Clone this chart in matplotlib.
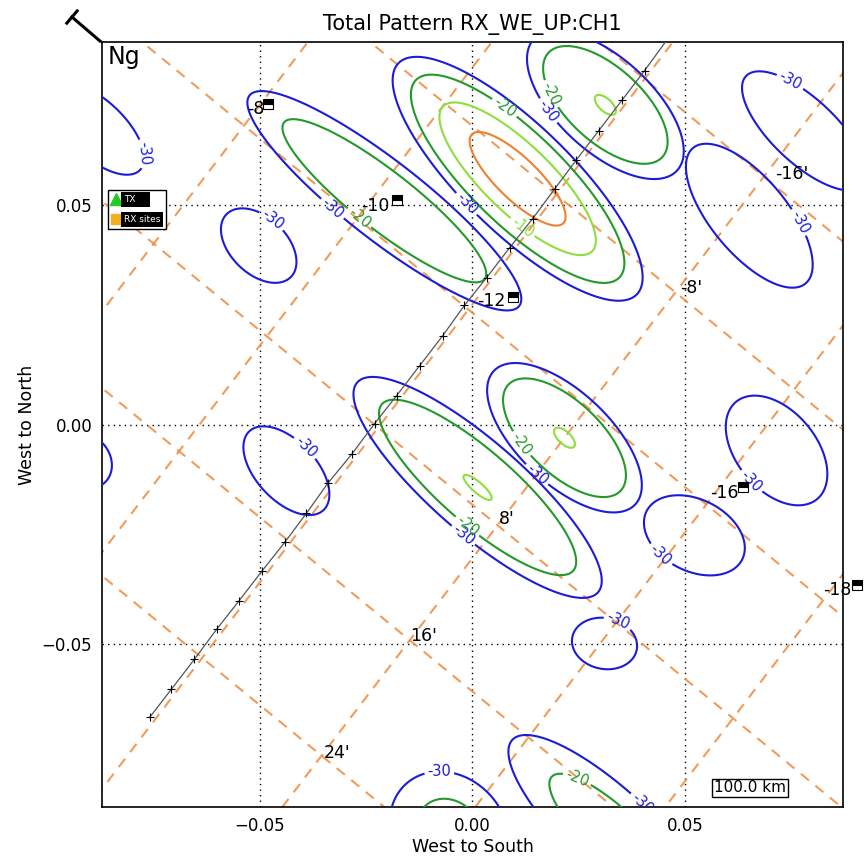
# Total pattern plot, RX_WE_UP:CH1

import numpy as np
import matplotlib
matplotlib.use('Agg')
import matplotlib.pyplot as plt
from matplotlib.lines import Line2D

# pattern lobes: centre, semi-axes of the -30 dB contour, tilt (deg), peak (dB)
lobe_x = [0.0106, 0.0312, -0.0207, 0.0216, 0.0012, -0.0437, -0.0911, 0.0779,
          0.0650, 0.0714, 0.0521, 0.0310, 0.0333, -0.0054, -0.0883, -0.0502]
lobe_y = [0.0559, 0.0727, 0.0509, -0.0030, -0.0143, -0.0105, -0.0082, 0.0668,
          0.0475, -0.0059, -0.0252, -0.0498, -0.0934, -0.0927, 0.0673, 0.0407]
lobe_a = [0.0384, 0.0225, 0.0397, 0.0225, 0.0370, 0.0125, 0.0069, 0.0185,
          0.0203, 0.0146, 0.0125, 0.0077, 0.0323, 0.0150, 0.0139, 0.0104]
lobe_b = [0.0125, 0.0108, 0.0090, 0.0106, 0.0106, 0.0069, 0.0058, 0.0074,
          0.0088, 0.0092, 0.0082, 0.0058, 0.0097, 0.0127, 0.0065, 0.0065]
lobe_ang = [-43, -41, -37, -42, -40, -45, -42, -42, -49, -48, -25, -10, -42, -42, -42, -42]
lobe_peak = [-3.5, -9.95, -13, -9.95, -9.97, -28, -28, -27, -27, -27, -27, -28, -17, -18, -27, -28]

levels = [-30, -20, -10, -5]
level_colors = ['#1c1cd8', '#23992b', '#8ede3e', '#ee8030']

# where the contour labels sit
lab30_x = [-0.0770, -0.0481, -0.0347, -0.0014, 0.0178, -0.0399, -0.0026, 0.0174,
           0.0657, 0.0423, 0.0340, -0.0078, 0.0744, 0.0744, 0.0399]
lab30_y = [0.0616, 0.0452, 0.0471, 0.0502, 0.0714, -0.0059, -0.0257, -0.0089,
           -0.0127, -0.0316, -0.0452, -0.0793, 0.0777, 0.0448, -0.0861]
lab20_x = [0.0082, 0.0176, -0.0265, 0.0134, -0.0007, 0.0244]
lab20_y = [0.0730, 0.0748, 0.0471, -0.0030, -0.0225, -0.0809]
lab10_x = [0.0115]
lab10_y = [0.0446]

# receiver track with its sample marks
track_x = [-0.0758, -0.0707, -0.0653, -0.0601, -0.0549, -0.0495, -0.0441, -0.0390,
           -0.0340, -0.0284, -0.0230, -0.0178, -0.0124, -0.0070, -0.0019, 0.0033,
           0.0087, 0.0141, 0.0193, 0.0244, 0.0296, 0.0352, 0.0404]
track_y = [-0.0666, -0.0602, -0.0534, -0.0466, -0.0402, -0.0334, -0.0268, -0.0202,
           -0.0134, -0.0068, 0.0002, 0.0066, 0.0134, 0.0202, 0.0271, 0.0334,
           0.0402, 0.0468, 0.0536, 0.0602, 0.0668, 0.0739, 0.0805]
track_end_x = 0.0462
track_end_y = 0.0882

# lon/lat graticule (orange dashes)
lon_top_x = [-0.0284, 0.0148, 0.0573, 0.1028, 0.1481, 0.1927]   # at y = 0.1
lon_bot_x = [-0.1862, -0.1430, -0.1005, -0.0549, -0.0096, 0.0350]  # at y = -0.1
lat_left_y = [0.1900, 0.1473, 0.1048, 0.0611, 0.0186, -0.0241]  # at x = -0.1
lat_right_y = [0.0313, -0.0115, -0.0540, -0.0976, -0.1401, -0.1828]  # at x = 0.1

grid_text = ['-8', '-10', '-12', '-16', '-18', "-16'", "-8'", "8'", "16'", "24'"]
grid_text_x = [-0.0509, -0.0228, 0.0045, 0.0592, 0.0857, 0.0749, 0.0514, 0.0080, -0.0115, -0.0319]
grid_text_y = [0.0718, 0.0498, 0.0282, -0.0155, -0.0377, 0.0571, 0.0311, -0.0214, -0.0480, -0.0746]
icon_x = [-0.0481, -0.0178, 0.0094, 0.0636, 0.0904]
icon_y = [0.0730, 0.0511, 0.0291, -0.0143, -0.0364]

# build the pattern field
gx = np.linspace(-0.095, 0.095, 600)
X, Y = np.meshgrid(gx, gx)
Z = np.full(X.shape, -60.0)
for xc, yc, a, b, ang, pk in zip(lobe_x, lobe_y, lobe_a, lobe_b, lobe_ang, lobe_peak):
    t = np.radians(ang)
    u = (X - xc) * np.cos(t) + (Y - yc) * np.sin(t)
    v = -(X - xc) * np.sin(t) + (Y - yc) * np.cos(t)
    d = np.sqrt((u / a) ** 2 + (v / b) ** 2)
    Z = np.maximum(Z, pk - (pk + 30) * d ** 3)

fig = plt.figure(figsize=(8.68, 8.6), dpi=100)
ax = fig.add_axes([0.1175, 0.0616, 0.8537, 0.8895])
ax.set_xlim(-0.087, 0.087)
ax.set_ylim(-0.087, 0.087)

# graticule
for xt, xb in zip(lon_top_x, lon_bot_x):
    ax.plot([xt, xb], [0.1, -0.1], color='#ee8a3c', lw=1.5, ls=(0, (5, 4)), alpha=0.85, zorder=1)
for yl, yr in zip(lat_left_y, lat_right_y):
    ax.plot([-0.1, 0.1], [yl, yr], color='#ee8a3c', lw=1.5, ls=(0, (5, 4)), alpha=0.85, zorder=1)

# contours
label_pos = {-30: list(zip(lab30_x, lab30_y)),
             -20: list(zip(lab20_x, lab20_y)),
             -10: list(zip(lab10_x, lab10_y)),
             -5: []}
for lev, col in zip(levels, level_colors):
    cs = ax.contour(X, Y, Z, levels=[lev], colors=[col], linewidths=1.5,
                    linestyles='solid', zorder=3)
    if label_pos[lev]:
        txts = ax.clabel(cs, fmt='%d', fontsize=10.5, manual=label_pos[lev],
                         inline=True, inline_spacing=3)
        for t in txts:
            t.set_clip_on(True)

# track
ax.plot(track_x + [track_end_x], track_y + [track_end_y], color='#555555', lw=0.9, zorder=4)
ax.plot(track_x, track_y, ls='none', marker='+', color='k', ms=6, mew=0.8, zorder=4)

# graticule labels
for s, x, y in zip(grid_text, grid_text_x, grid_text_y):
    ax.text(x, y, s, fontsize=12.5, ha='center', va='center', zorder=5)
ax.plot(icon_x, icon_y, ls='none', marker='s', ms=7, fillstyle='top', mfc='k',
        mfcalt='w', mec='k', mew=0.8, clip_on=False, zorder=5)

ax.grid(True, color='k', ls=(0, (1, 3)), lw=1.0)
ax.set_axisbelow(True)
ax.set_xticks([-0.05, 0.0, 0.05])
ax.set_yticks([-0.05, 0.0, 0.05])
ax.tick_params(length=0, labelsize=12, pad=7)
for sp in ax.spines.values():
    sp.set_linewidth(1.2)

ax.set_title('Total Pattern RX_WE_UP:CH1', fontsize=15, pad=9)
ax.set_xlabel('West to South', fontsize=12.5, labelpad=2)
ax.set_ylabel('West to North', fontsize=12.5)
ax.text(0.007, 0.996, 'Ng', transform=ax.transAxes, fontsize=17, ha='left', va='top')

# small legend of the sites
handles = [Line2D([], [], ls='none', marker='^', color='#22cc22', ms=8),
           Line2D([], [], ls='none', marker='s', color='#f0b020', ms=7)]
leg = ax.legend(handles, ['TX    ', 'RX sites'], loc='upper left', bbox_to_anchor=(0.008, 0.807),
                borderaxespad=0, fontsize=6.5, handlelength=0.5, handletextpad=0.7,
                labelspacing=1.2, borderpad=0.6, fancybox=False, framealpha=1, edgecolor='k')
for t in leg.get_texts():
    t.set_color('w')
    t.set_bbox(dict(fc='k', ec='none', pad=2))

# scale note
ax.text(0.8745, 0.025, '100.0 km', transform=ax.transAxes, ha='center', va='center', fontsize=11,
        bbox=dict(boxstyle='square,pad=0.12', fc='w', ec='k', lw=1), zorder=6)

# north arrow at the upper left corner
fig.add_artist(Line2D([0.1152, 0.0829], [0.9523, 0.9802], color='k', lw=2.2))
fig.add_artist(Line2D([0.0770, 0.0889], [0.9731, 0.9873], color='k', lw=2.2))

fig.savefig('out.png', dpi=100)
